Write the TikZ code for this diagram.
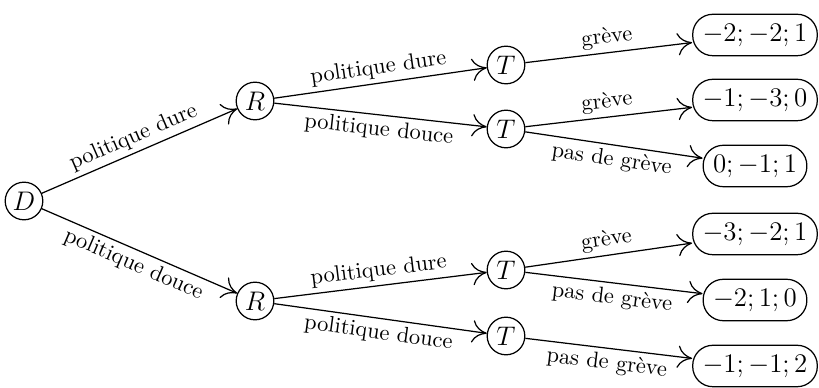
\documentclass[tikz,border=0pt]{standalone}
\usetikzlibrary{arrows.meta}
\begin{document}
\begin{tikzpicture}[x=0.4464pt,y=-0.4464pt,
  state/.style={circle,draw,line width=0.55pt,inner sep=0pt,minimum size=16.8pt,font=\large},
  leaf/.style={rectangle,draw,rounded corners=9pt,line width=0.55pt,inner xsep=4.4pt,inner ysep=0pt,
    minimum height=18.5pt,font=\large},
  edge/.style={line width=0.55pt,-{To[length=6.5pt,width=10pt]}},
  lab/.style={sloped,inner sep=2pt}]
\useasboundingbox (0,0) rectangle (819,388);
% decision nodes
\node[state] (D)  at (24,201)  {$D$};
\node[state] (R1) at (255,101) {$R$};
\node[state] (R2) at (255,301) {$R$};
\node[state] (T1) at (506,65)  {$T$};
\node[state] (T2) at (506,129) {$T$};
\node[state] (T3) at (506,270) {$T$};
\node[state] (T4) at (506,336) {$T$};
% payoffs
\node[leaf] (L1) at (755,35)  {$-2;-2;1$};
\node[leaf] (L2) at (755,100) {$-1;-3;0$};
\node[leaf] (L3) at (755,166) {$0;-1;1$};
\node[leaf] (L4) at (755,234) {$-3;-2;1$};
\node[leaf] (L5) at (755,300) {$-2;1;0$};
\node[leaf] (L6) at (755,366) {$-1;-1;2$};
% branches
\draw[edge] (D) -- node[lab,above]{politique dure} (R1);
\draw[edge] (D) -- node[lab,below]{politique douce} (R2);
\draw[edge] (R1) -- node[lab,above]{politique dure} (T1);
\draw[edge] (R1) -- node[lab,below]{politique douce} (T2);
\draw[edge] (R2) -- node[lab,above]{politique dure} (T3);
\draw[edge] (R2) -- node[lab,below]{politique douce} (T4);
\draw[edge] (T1) -- node[lab,above]{grève} (L1);
\draw[edge] (T2) -- node[lab,above]{grève} (L2);
\draw[edge] (T2) -- node[lab,below]{pas de grève} (L3);
\draw[edge] (T3) -- node[lab,above]{grève} (L4);
\draw[edge] (T3) -- node[lab,below]{pas de grève} (L5);
\draw[edge] (T4) -- node[lab,below]{pas de grève} (L6);
\end{tikzpicture}
\end{document}
